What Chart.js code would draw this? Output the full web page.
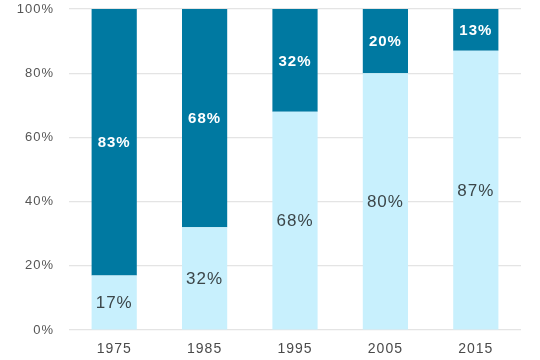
<!DOCTYPE html>
<html>
<head>
<meta charset="utf-8">
<script src="https://cdn.jsdelivr.net/npm/chart.js@4/dist/chart.umd.min.js"></script>
<style>
  html, body { margin: 0; padding: 0; background: #fff; }
  #wrap { width: 540px; height: 360px; }
</style>
</head>
<body>
<div id="wrap"><canvas id="shares"></canvas></div>
<script>
// DATA
var years = ['1975', '1985', '1995', '2005', '2015'];
var lowerShare = [17, 32, 68, 80, 87];
var upperShare = [83, 68, 32, 20, 13];
var yTicks = [0, 20, 40, 60, 80, 100];

// the reference text is a bit wide, so space the letters out
var wideText = {
    id: 'wideText',
    beforeDraw: function (chart) { chart.ctx.letterSpacing = '1px'; }
};

// draws the % labels in the middle of each segment
var segmentLabels = {
    id: 'segmentLabels',
    afterDatasetsDraw: function (chart) {
        var c = chart.ctx;
        chart.data.datasets.forEach(function (ds, i) {
            chart.getDatasetMeta(i).data.forEach(function (bar, j) {
                var mid = (bar.y + bar.base) / 2;
                c.save();
                c.textAlign = 'center';
                c.textBaseline = 'middle';
                c.fillStyle = ds.labelColor;
                c.font = ds.labelFont;
                c.fillText(ds.data[j] + '%', bar.x, mid + 1);
                c.restore();
            });
        });
    }
};

var ctx = document.getElementById('shares');
var chart = new Chart(ctx, {
    type: 'bar',
    data: {
        labels: years,
        datasets: [{
            data: lowerShare,
            backgroundColor: 'rgb(200, 240, 253)',
            labelColor: '#3c4649',
            labelFont: '17px "Liberation Sans", Arial, sans-serif'
        }, {
            data: upperShare,
            backgroundColor: 'rgb(0, 121, 161)',
            labelColor: '#ffffff',
            labelFont: 'bold 15px "Liberation Sans", Arial, sans-serif'
        }]
    },
    options: {
        responsive: true,
        maintainAspectRatio: false,
        animation: false,
        barPercentage: 1,
        categoryPercentage: 0.5,
        layout: { padding: { top: 9, right: 19, left: 0, bottom: 0 } },
        plugins: {
            legend: { display: false },
            tooltip: { enabled: false }
        },
        scales: {
            x: {
                stacked: true,
                grid: { display: false, drawTicks: false },
                border: { display: false },
                ticks: {
                    color: '#4a4a4a',
                    padding: 11,
                    font: { family: '"Liberation Sans", Arial, sans-serif', size: 14 }
                },
                afterFit: function (s) { s.height = 30; }
            },
            y: {
                stacked: true,
                min: 0,
                max: 100,
                afterBuildTicks: function (s) {
                    s.ticks = yTicks.map(function (v) { return { value: v }; });
                },
                grid: { color: '#e4e4e4', drawTicks: false, lineWidth: 1.2 },
                border: { display: false },
                ticks: {
                    color: '#555',
                    padding: 15,
                    font: { family: '"Liberation Sans", Arial, sans-serif', size: 13 },
                    callback: function (v) { return v + '%'; }
                },
                afterFit: function (s) {
                    s.width = 69;
                    s.paddingTop = 0;
                    s.paddingBottom = 0;
                }
            }
        }
    },
    plugins: [wideText, segmentLabels]
});
</script>
</body>
</html>
